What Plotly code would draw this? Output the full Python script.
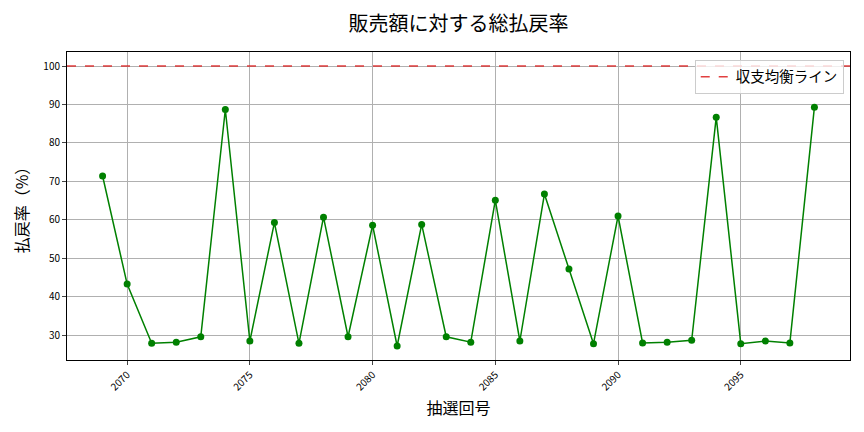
import plotly.graph_objects as go

draws = list(range(2069, 2099))
payout_rate = [71.4, 43.3, 27.9, 28.2, 29.6, 88.7, 28.5, 59.3, 27.9, 60.7,
               29.6, 58.6, 27.2, 58.8, 29.6, 28.2, 65.1, 28.5, 66.7, 47.2,
               27.8, 61.0, 28.0, 28.2, 28.7, 86.7, 27.8, 28.5, 28.0, 89.3]
breakeven = 100
x_ticks = [2070, 2075, 2080, 2085, 2090, 2095]
y_ticks = [30, 40, 50, 60, 70, 80, 90, 100]

FONT = "Noto Sans CJK JP"

fig = go.Figure()
fig.add_trace(go.Scatter(
    x=draws, y=payout_rate, mode="lines+markers",
    line=dict(color="green", width=1.5),
    marker=dict(color="green", size=7),
    showlegend=False,
))
fig.add_trace(go.Scatter(
    x=[2067.55, 2099.45], y=[breakeven, breakeven], mode="lines",
    line=dict(color="rgba(220,30,30,0.85)", width=1.5, dash="dash"),
    name="収支均衡ライン",
))

fig.update_layout(
    width=864, height=432,
    margin=dict(l=67, r=14, t=52, b=72),
    paper_bgcolor="white", plot_bgcolor="white",
    font=dict(family=FONT, color="black"),
    title=dict(text="販売額に対する総払戻率", x=0.5306, xanchor="center",
               y=0.945, yanchor="middle", font=dict(size=20, family=FONT)),
    legend=dict(x=0.992, y=0.975, xanchor="right", yanchor="top",
                bgcolor="rgba(255,255,255,0.8)", bordercolor="#cccccc",
                borderwidth=1, font=dict(size=14.5, family=FONT)),
    showlegend=True,
)
fig.update_xaxes(
    range=[2067.55, 2099.45], tickvals=x_ticks, ticktext=[str(v) for v in x_ticks],
    tickangle=-45, tickfont=dict(size=10), ticks="outside", ticklen=4,
    showgrid=True, gridcolor="#b0b0b0", gridwidth=0.8,
    showline=True, linecolor="black", linewidth=1, mirror=True, zeroline=False,
    title=dict(text="抽選回号", font=dict(size=16), standoff=10),
)
fig.update_yaxes(
    range=[23.56, 103.64], tickvals=y_ticks, ticktext=[str(v) for v in y_ticks],
    tickfont=dict(size=10), ticks="outside", ticklen=4,
    showgrid=True, gridcolor="#b0b0b0", gridwidth=0.8,
    showline=True, linecolor="black", linewidth=1, mirror=True, zeroline=False,
    title=dict(text="払戻率（%）", font=dict(size=16), standoff=10),
)

fig.write_html("out.html", config={"displayModeBar": False},
               post_script="document.body.style.margin='0';")
